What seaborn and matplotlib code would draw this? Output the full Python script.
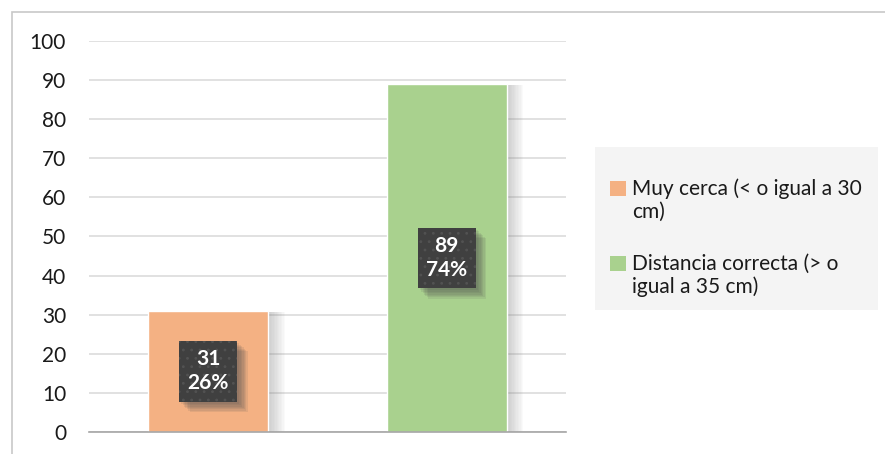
import textwrap
import matplotlib
matplotlib.use("Agg")
import matplotlib.pyplot as plt
import matplotlib.patheffects as pe
from matplotlib.patches import Rectangle, Patch
from matplotlib.legend_handler import HandlerPatch
import seaborn as sns
import pandas as pd

categories = ["Muy cerca (< o igual a 30 cm)", "Distancia correcta (> o igual a 35 cm)"]
counts = [31, 89]
percents = ["26%", "74%"]
colors = ["#F4B183", "#A9D18E"]
yticks = [0, 10, 20, 30, 40, 50, 60, 70, 80, 90, 100]

sns.set_theme(style="white")
plt.rcParams["font.family"] = ["Lato", "DejaVu Sans"]
plt.rcParams["hatch.color"] = "#525252"
plt.rcParams["hatch.linewidth"] = 0.8

W, H = 885, 454
FS = 15
fig = plt.figure(figsize=(W / 100, H / 100), dpi=100)
fig.patch.set_facecolor("white")


class PlainShadow(pe.SimplePatchShadow):
    """Patch shadow that ignores any hatch of the patch it follows."""
    def draw_path(self, renderer, gc, tpath, affine, rgbFace):
        gc0 = renderer.new_gc()
        gc0.copy_properties(gc)
        gc0.set_hatch(None)
        super().draw_path(renderer, gc0, tpath, affine, rgbFace)
        gc0.restore()


# chart frame (left and top edges visible)
fig.add_artist(Rectangle((12 / W, -0.05), 2.0, 1 - 12 / H + 0.05,
                         transform=fig.transFigure, fill=False,
                         edgecolor="#c8c8c8", linewidth=1.2, zorder=0))

ax = fig.add_axes([89 / W, 22 / H, (566 - 89) / W, (432 - 41) / H])
df = pd.DataFrame({"cat": categories, "n": counts})
sns.barplot(data=df, x="cat", y="n", hue="cat", palette=colors,
            width=0.503, saturation=1, legend=False, ax=ax, zorder=2)

# soft drop shadow to the right of each bar
soft = [PlainShadow(offset=(k, -1), shadow_rgbFace="#8c8c8c", alpha=0.04)
        for k in range(12, 0, -1)]
for bar in ax.patches:
    bar.set_path_effects(soft + [pe.Normal()])

ax.set_ylim(0, 100)
ax.set_xlim(-0.5, 1.5)
ax.set_yticks(yticks)
ax.set_yticklabels([str(v) for v in yticks], fontsize=FS, color="#1a1a1a")
ax.set_xticks([])
ax.set_xlabel("")
ax.set_ylabel("")
ax.tick_params(axis="y", length=0, pad=16.5)
ax.grid(axis="y", color="#d9d9d9", linewidth=1.1, zorder=0)
ax.set_axisbelow(True)
for s in ["left", "right", "top"]:
    ax.spines[s].set_visible(False)
ax.spines["bottom"].set_color("#a6a6a6")
ax.spines["bottom"].set_linewidth(1.2)
ax.spines["bottom"].set_zorder(3)

# value / percentage labels at mid-height of each bar
box_shadow = [PlainShadow(offset=(1.5 + k, -1.5 - k), shadow_rgbFace="#505050", alpha=0.11)
              for k in range(6, -1, -1)]
for i, (n, p) in enumerate(zip(counts, percents)):
    t = ax.text(i, n / 2, f"{n}\n{p}", ha="center", va="center",
                color="white", fontsize=FS, fontweight="bold",
                linespacing=1.25, zorder=5,
                bbox=dict(boxstyle="square,pad=0.4", facecolor="#404040",
                          edgecolor="#525252", linewidth=0, hatch=".."))
    t.get_bbox_patch().set_path_effects(box_shadow + [pe.Normal()])

# legend panel
fig.add_artist(Rectangle((595 / W, 1 - 310 / H), (878 - 595) / W, 163 / H,
                         transform=fig.transFigure, facecolor="#f4f4f4",
                         edgecolor="none", zorder=1))


class TopAlignedSquare(HandlerPatch):
    def create_artists(self, legend, orig_handle, xdescent, ydescent,
                       width, height, fontsize, trans):
        shift = 0.62 * fontsize
        r = Rectangle((-xdescent, -ydescent + shift), width, height,
                      facecolor=orig_handle.get_facecolor(), edgecolor="none",
                      transform=trans)
        return [r]


handles = [Patch(facecolor=c, edgecolor="none") for c in colors]
labels = [textwrap.fill(c, 25) for c in categories]
leg = fig.legend(handles, labels, loc="upper left",
                 bbox_to_anchor=(600 / W, 1 - 168 / H),
                 fontsize=FS, frameon=False,
                 handler_map={Patch: TopAlignedSquare()},
                 handlelength=0.75, handleheight=0.75, handletextpad=0.3,
                 labelspacing=1.5, borderpad=0.0, labelcolor="#1a1a1a")
leg.set_zorder(2)

fig.savefig("out.png", dpi=100)
